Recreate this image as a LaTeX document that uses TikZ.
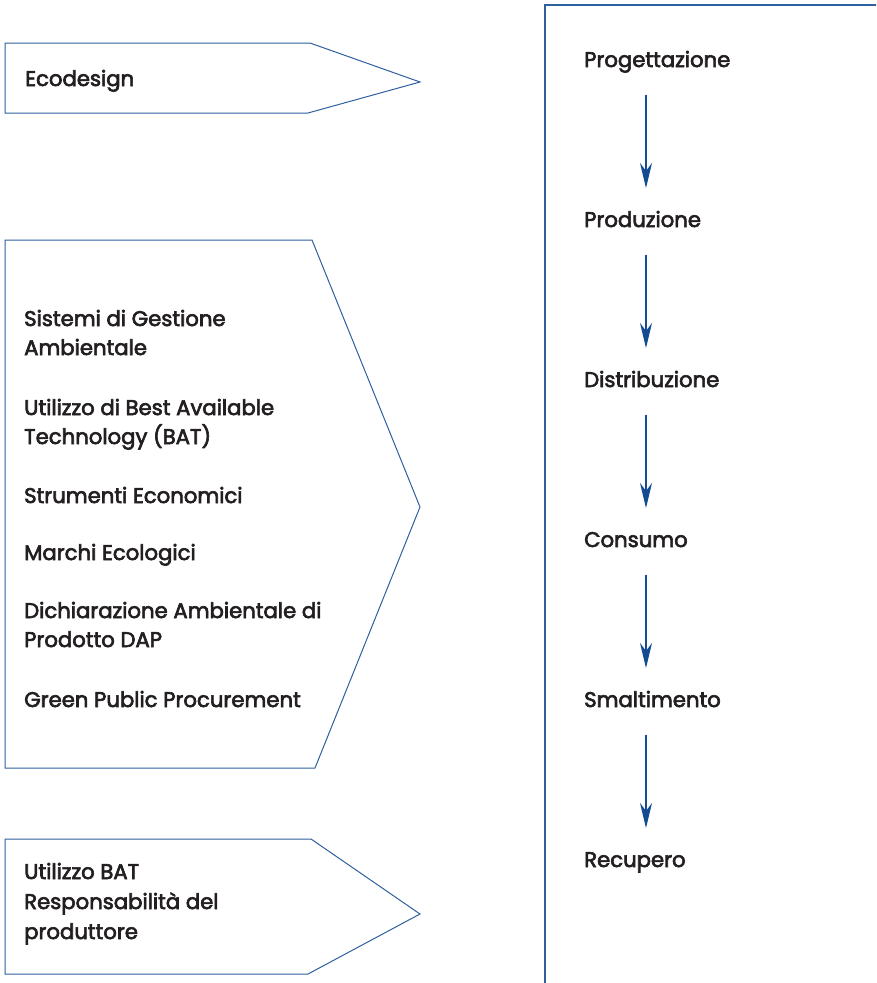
\documentclass[tikz,border=0pt]{standalone}
\usepackage{fontspec}
\setmainfont{Poppins}[UprightFeatures={FakeBold=3}]
\usetikzlibrary{arrows.meta}
\definecolor{outline}{RGB}{46,95,158}
\definecolor{flowblue}{RGB}{20,76,145}
\definecolor{ink}{RGB}{35,31,32}
\tikzset{
  panel/.style={draw=outline, line width=1pt, line join=miter},
  frame/.style={draw=outline, line width=1.6pt},
  label/.style={anchor=base west, inner sep=0pt, text=ink, font=\fontsize{21.2}{29}\selectfont},
  flow/.style={draw=flowblue, line width=1.1pt, -{Stealth[length=25pt,width=12pt,inset=8pt]}}
}
\begin{document}
\begin{tikzpicture}[x=1pt,y=-1pt]
\useasboundingbox (0,0) rectangle (876,983);
\clip (0,0) rectangle (876,983);

% instrument panels on the left
\draw[panel] (5,43) -- (310,43) -- (420,82) -- (308,113) -- (5,113) -- cycle;
\draw[panel] (5,240) -- (312,240) -- (420,507) -- (315,768) -- (5,768) -- cycle;
\draw[panel] (5,839) -- (311,839) -- (420,914) -- (308,974) -- (5,974) -- cycle;

% life-cycle frame on the right
\draw[frame] (545,995) -- (545,5) -- (890,5);

% panel texts
\node[label] (eco) at (25,86) {Ecodesign};

\node[label] (sga1) at (24,326) {Sistemi di Gestione};
\node[label] (sga2) at (24,355) {Ambientale};
\node[label] (bat1) at (24,415) {Utilizzo di Best Available};
\node[label] (bat2) at (24,444) {Technology (BAT)};
\node[label] (eco2) at (24,503) {Strumenti Economici};
\node[label] (mar)  at (24,560) {Marchi Ecologici};
\node[label] (dap1) at (24,618) {Dichiarazione Ambientale di};
\node[label] (dap2) at (24,647) {Prodotto DAP};
\node[label] (gpp)  at (24,707) {Green Public Procurement};

\node[label] (ub)  at (24,879) {Utilizzo BAT};
\node[label] (rp1) at (24,909) {Responsabilità del};
\node[label] (rp2) at (24,939) {produttore};

% life-cycle stages
\node[label] (s1) at (584,67)  {Progettazione};
\node[label] (s2) at (584,227) {Produzione};
\node[label] (s3) at (584,387) {Distribuzione};
\node[label] (s4) at (584,547) {Consumo};
\node[label] (s5) at (584,707) {Smaltimento};
\node[label] (s6) at (584,867) {Recupero};

\foreach \a/\b in {s1/s2,s2/s3,s3/s4,s4/s5,s5/s6}
  \draw[flow] ([shift={(62,28)}]\a.base west) -- ([shift={(62,-39)}]\b.base west);
\end{tikzpicture}
\end{document}
